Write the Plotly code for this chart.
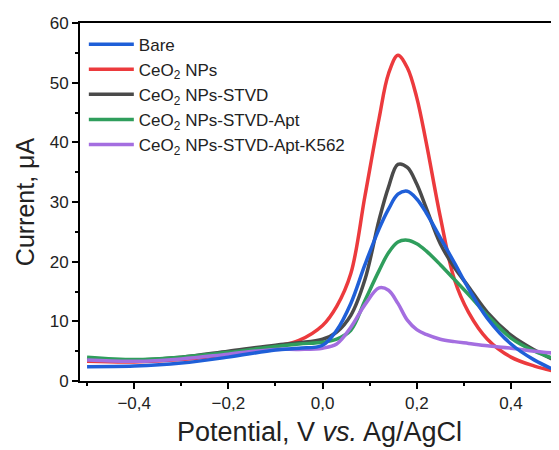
import plotly.graph_objects as go

potential = [-0.5, -0.4, -0.3, -0.2, -0.1, -0.05, 0.0, 0.03, 0.06, 0.09, 0.12, 0.14,
             0.16, 0.18, 0.2, 0.22, 0.25, 0.28, 0.31, 0.35, 0.4, 0.45, 0.5]

bare = [2.4, 2.5, 3.0, 4.0, 5.2, 5.5, 6.0, 8.5, 13.0, 19.5, 25.5, 28.8,
        31.3, 31.8, 30.5, 28.2, 24.0, 19.8, 15.5, 10.5, 6.2, 3.5, 1.6]
ceo2 = [3.3, 3.2, 3.6, 4.5, 5.8, 6.8, 9.3, 12.5, 18.0, 31.0, 44.0, 51.5,
        54.6, 52.5, 47.5, 40.0, 27.5, 17.0, 11.5, 7.0, 4.0, 2.5, 1.5]
stvd = [3.6, 3.5, 4.0, 5.0, 6.0, 6.4, 7.0, 8.2, 11.0, 17.0, 27.0, 32.5,
        36.3, 35.8, 33.0, 29.0, 23.0, 19.0, 15.8, 11.5, 7.7, 5.2, 3.2]
apt = [4.0, 3.6, 4.0, 4.8, 5.8, 6.2, 6.5, 7.0, 8.5, 13.5, 18.5, 21.5,
       23.3, 23.6, 23.0, 21.8, 19.5, 17.0, 14.5, 11.0, 7.2, 5.0, 3.5]
k562 = [3.5, 3.3, 3.7, 4.5, 5.3, 5.3, 5.5, 6.2, 9.0, 12.8, 15.6, 15.2,
        13.0, 10.2, 8.6, 7.8, 7.0, 6.6, 6.3, 5.9, 5.5, 5.0, 4.6]

names = ["Bare", "CeO<sub>2</sub> NPs", "CeO<sub>2</sub> NPs-STVD",
         "CeO<sub>2</sub> NPs-STVD-Apt", "CeO<sub>2</sub> NPs-STVD-Apt-K562"]
colors = ["#1f5fd8", "#ec3a3d", "#4a4a4a", "#2f9e5c", "#a46ee0"]
series = [bare, ceo2, stvd, apt, k562]

x_tickvals = [-0.4, -0.2, 0.0, 0.2, 0.4]
x_ticktext = ["\u22120,4", "\u22120,2", "0,0", "0,2", "0,4"]
y_tickvals = [0, 10, 20, 30, 40, 50, 60]

fig = go.Figure()
draw_order = [1, 2, 3, 4, 0]
for i in draw_order:
    fig.add_trace(go.Scatter(
        x=potential, y=series[i], name=names[i], mode="lines",
        line=dict(color=colors[i], width=3.5, shape="spline", smoothing=1.0),
        legendrank=i + 1,
    ))

fig.update_layout(
    width=551, height=442,
    margin=dict(l=72, r=0, t=15, b=69),
    paper_bgcolor="white", plot_bgcolor="white",
    font=dict(family="Liberation Sans, Arial, sans-serif", color="#222", size=17),
    legend=dict(x=0.008, y=0.99, xanchor="left", yanchor="top",
                bgcolor="rgba(0,0,0,0)", font=dict(size=17),
                tracegroupgap=0, itemwidth=45),
    showlegend=True,
)
fig.update_xaxes(
    range=[-0.515, 0.502], tickmode="array", tickvals=x_tickvals, ticktext=x_ticktext,
    showline=True, linecolor="black", linewidth=2, mirror=True,
    ticks="outside", ticklen=6, tickwidth=2, tickcolor="black",
    minor=dict(tickvals=[-0.5, -0.3, -0.1, 0.1, 0.3, 0.5], ticks="outside",
               ticklen=3, tickwidth=2, tickcolor="black"),
    showgrid=False, zeroline=False,
    tickfont=dict(size=17),
    title=dict(text="Potential, V <i>vs.</i> Ag/AgCl", font=dict(size=27), standoff=10),
)
fig.update_yaxes(
    range=[0, 60], tickmode="array", tickvals=y_tickvals,
    showline=True, linecolor="black", linewidth=2,
    ticks="outside", ticklen=6, tickwidth=2, tickcolor="black",
    minor=dict(tickvals=[5, 15, 25, 35, 45, 55], ticks="outside",
               ticklen=3, tickwidth=2, tickcolor="black"),
    showgrid=False, zeroline=False,
    tickfont=dict(size=17),
    title=dict(text="Current, \u03bcA", font=dict(size=25), standoff=8),
)

fig.write_html("out.html")
